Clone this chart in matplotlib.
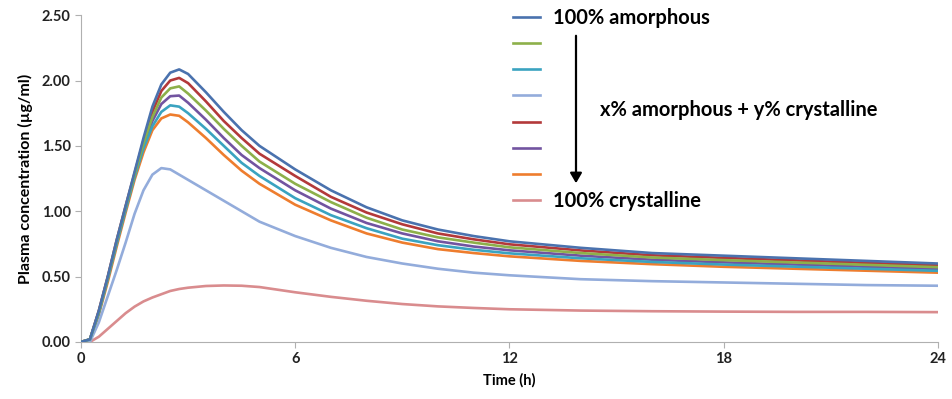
import numpy as np
import matplotlib
matplotlib.use("Agg")
import matplotlib.pyplot as plt
from matplotlib.ticker import FormatStrFormatter

plt.rcParams['font.family'] = ['Lato', 'DejaVu Sans']

# time points (h)
time = [0, 0.25, 0.5, 0.75, 1, 1.25, 1.5, 1.75, 2, 2.25, 2.5, 2.75, 3, 3.5, 4, 4.5,
        5, 6, 7, 8, 9, 10, 11, 12, 14, 16, 18, 20, 22, 24]

# plasma concentration (ug/ml)
amorph_100 = [0, 0.02, 0.24, 0.50, 0.78, 1.04, 1.30, 1.56, 1.80, 1.97, 2.06, 2.085, 2.05, 1.91, 1.76, 1.62,
              1.50, 1.32, 1.16, 1.03, 0.93, 0.86, 0.81, 0.77, 0.72, 0.68, 0.66, 0.64, 0.62, 0.60]
mix_red = [0, 0.02, 0.24, 0.50, 0.78, 1.04, 1.29, 1.54, 1.76, 1.92, 2.00, 2.02, 1.98, 1.84, 1.69, 1.56,
           1.44, 1.27, 1.11, 0.99, 0.90, 0.83, 0.785, 0.747, 0.70, 0.663, 0.643, 0.624, 0.605, 0.586]
mix_green = [0, 0.02, 0.23, 0.49, 0.77, 1.03, 1.28, 1.52, 1.72, 1.87, 1.94, 1.955, 1.90, 1.77, 1.63, 1.50,
             1.38, 1.21, 1.07, 0.95, 0.86, 0.80, 0.76, 0.724, 0.68, 0.646, 0.626, 0.608, 0.59, 0.572]
mix_purple = [0, 0.02, 0.23, 0.49, 0.76, 1.02, 1.27, 1.50, 1.69, 1.82, 1.88, 1.885, 1.83, 1.70, 1.56, 1.43,
              1.33, 1.16, 1.02, 0.91, 0.83, 0.77, 0.73, 0.701, 0.66, 0.629, 0.609, 0.592, 0.575, 0.558]
mix_teal = [0, 0.02, 0.22, 0.48, 0.75, 1.01, 1.26, 1.48, 1.65, 1.76, 1.81, 1.80, 1.75, 1.63, 1.50, 1.37,
            1.27, 1.10, 0.97, 0.87, 0.79, 0.74, 0.705, 0.678, 0.64, 0.612, 0.592, 0.576, 0.56, 0.544]
mix_orange = [0, 0.01, 0.21, 0.46, 0.73, 0.99, 1.24, 1.45, 1.62, 1.71, 1.74, 1.73, 1.68, 1.56, 1.43, 1.31,
              1.21, 1.05, 0.93, 0.83, 0.76, 0.71, 0.68, 0.655, 0.62, 0.595, 0.575, 0.56, 0.545, 0.53]
mix_lightblue = [0, 0.0, 0.15, 0.35, 0.55, 0.76, 0.98, 1.16, 1.28, 1.33, 1.32, 1.28, 1.24, 1.16, 1.08, 1.00,
                 0.92, 0.81, 0.72, 0.65, 0.60, 0.56, 0.53, 0.51, 0.48, 0.465, 0.455, 0.445, 0.435, 0.43]
cryst_100 = [0, 0.0, 0.04, 0.10, 0.16, 0.22, 0.27, 0.31, 0.34, 0.365, 0.39, 0.405, 0.415, 0.428, 0.432, 0.43,
             0.42, 0.38, 0.345, 0.315, 0.29, 0.272, 0.26, 0.25, 0.24, 0.235, 0.232, 0.23, 0.23, 0.228]

# legend order: blue, green, teal, light blue, red, purple, orange, pink
series = [amorph_100, mix_green, mix_teal, mix_lightblue, mix_red, mix_purple, mix_orange, cryst_100]
colors = ['#4A72AE', '#8DB04A', '#3AA3C0', '#93ACDB', '#B3393A', '#7254A0', '#EE7D2E', '#D98C8E']
labels = ['100% amorphous', ' ', ' ', ' ', ' ', ' ', ' ', '100% crystalline']
draw_order = [7, 3, 6, 2, 5, 1, 4, 0]

fig = plt.figure(figsize=(9.53, 3.99), dpi=100)
ax = fig.add_axes([0.085, 0.143, 0.899, 0.819])

lines = {}
for i in draw_order:
    lines[i], = ax.plot(time, series[i], color=colors[i], lw=1.9, label=labels[i], zorder=3 + (7 - i))

ax.set_xlim(0, 24)
ax.set_ylim(0, 2.5)
ax.set_xticks([0, 6, 12, 18, 24])
ax.set_yticks(np.arange(0, 2.51, 0.5))
ax.yaxis.set_major_formatter(FormatStrFormatter('%.2f'))
for s in ['top', 'right']:
    ax.spines[s].set_visible(False)
for s in ['left', 'bottom']:
    ax.spines[s].set_color('#B0B0B0')
ax.tick_params(axis='both', colors='#B0B0B0', length=4, labelcolor='#222222', labelsize=10.5)
for t in ax.get_xticklabels() + ax.get_yticklabels():
    t.set_fontweight('bold')
ax.set_xlabel('Time (h)', fontsize=10.5, fontweight='bold', labelpad=5)
ax.set_ylabel('Plasma concentration (µg/ml)', fontsize=11.5, fontweight='bold', labelpad=6)

handles = [lines[i] for i in range(8)]
fig.legend(handles, labels, loc='upper left', bbox_to_anchor=(0.538, 0.98), frameon=False,
           prop={'weight': 'bold', 'size': 14.5}, handlelength=1.34, handletextpad=0.65,
           labelspacing=0.305, borderpad=0, borderaxespad=0)

fig.text(600 / 953, 1 - 110 / 399, 'x% amorphous + y% crystalline', fontsize=14.5, fontweight='bold',
         va='center', ha='left')
fig.patches.append(matplotlib.patches.FancyArrowPatch((576 / 953, 1 - 33 / 399), (576 / 953, 1 - 186 / 399),
                                                      transform=fig.transFigure, arrowstyle='-|>,head_length=6,head_width=3.5',
                                                      color='black', lw=1.6))

fig.savefig('out.png', dpi=100)
